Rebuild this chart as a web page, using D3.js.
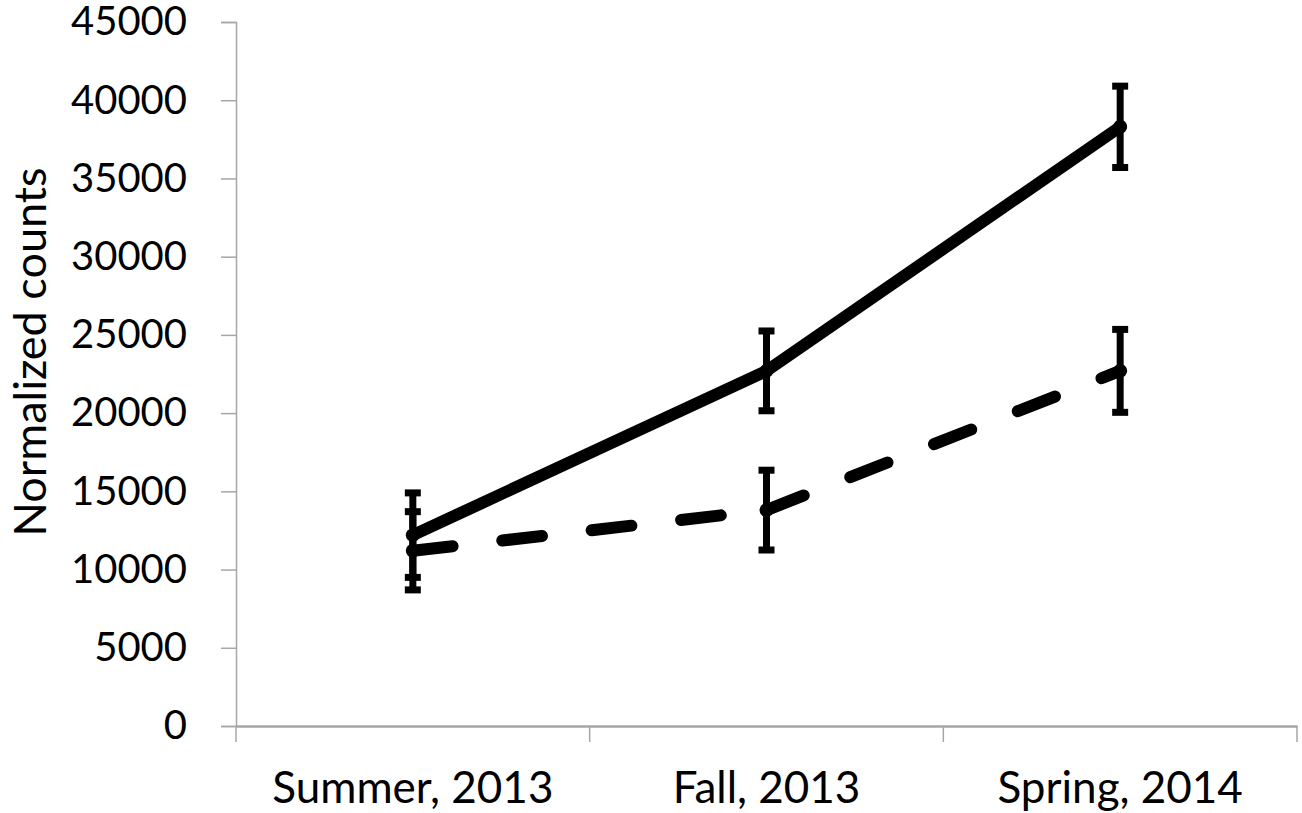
<!DOCTYPE html>
<html>
<head>
<meta charset="utf-8">
<script src="https://cdn.jsdelivr.net/npm/d3@7/dist/d3.min.js"></script>
<style>
  body { margin: 0; background: #fff; }
  svg { display: block; }
</style>
</head>
<body>
<div id="chart-container"></div>
<script>
const categories = ["Summer, 2013", "Fall, 2013", "Spring, 2014"];
const solidValues = [12200, 22700, 38300];
const solidErrors = [2700, 2550, 2600];
const dashedValues = [11200, 13800, 22700];
const dashedErrors = [2500, 2550, 2650];
const yTicks = [0, 5000, 10000, 15000, 20000, 25000, 30000, 35000, 40000, 45000];

const width = 1302;
const height = 813;
const margin = { top: 22, right: 5, bottom: 87, left: 236 };
const font = "Lato, 'Open Sans', sans-serif";

const svg = d3.select("#chart-container")
    .append("svg")
    .attr("width", width)
    .attr("height", height)
    .style("font-family", font);

const x = d3.scaleBand()
    .domain(categories)
    .range([margin.left, width - margin.right])
    .paddingInner(0)
    .paddingOuter(0);

const y = d3.scaleLinear()
    .domain([0, 45000])
    .range([height - margin.bottom, margin.top]);

const axisColor = "#a6a6a6";

// y axis
const yAxis = svg.append("g")
    .attr("transform", `translate(${margin.left},0)`)
    .call(d3.axisLeft(y).tickValues(yTicks).tickSize(15).tickPadding(34).tickFormat(d3.format("d")));
yAxis.select(".domain").attr("stroke", axisColor).attr("stroke-width", 1.5);
yAxis.selectAll(".tick line").attr("stroke", axisColor).attr("stroke-width", 1.5);
yAxis.selectAll(".tick text")
    .attr("fill", "#000")
    .style("font-size", "40px")
    .style("font-family", font);

// x axis
const xAxis = svg.append("g")
    .attr("transform", `translate(0,${y(0)})`)
    .call(d3.axisBottom(x).tickSize(0).tickPadding(46));
xAxis.select(".domain").attr("stroke", axisColor).attr("stroke-width", 2.5);
xAxis.selectAll(".tick text")
    .attr("fill", "#000")
    .style("font-size", "44px")
    .style("font-family", font);

// x category boundary ticks
const boundaries = categories.map(c => x(c)).concat([x(categories[categories.length - 1]) + x.bandwidth()]);
xAxis.selectAll(".bound")
    .data(boundaries)
    .enter()
    .append("line")
    .attr("class", "bound")
    .attr("x1", d => d)
    .attr("x2", d => d)
    .attr("y1", 0)
    .attr("y2", 16)
    .attr("stroke", axisColor)
    .attr("stroke-width", 1.5);

// y axis title
svg.append("text")
    .attr("transform", "translate(46,352) rotate(-90)")
    .attr("text-anchor", "middle")
    .style("font-size", "45px")
    .text("Normalized counts");

const cx = c => x(c) + x.bandwidth() / 2;

function drawSeries(values, errors, dashed) {
    const pts = categories.map((c, i) => ({ c, v: values[i], e: errors[i] }));
    const g = svg.append("g");

    // error bars
    const eb = g.selectAll(".eb").data(pts).enter().append("g");
    eb.append("line")
        .attr("x1", d => cx(d.c)).attr("x2", d => cx(d.c))
        .attr("y1", d => y(d.v - d.e)).attr("y2", d => y(d.v + d.e))
        .attr("stroke", "#000").attr("stroke-width", 7);
    [1, -1].forEach(s => {
        eb.append("line")
            .attr("x1", d => cx(d.c) - 8).attr("x2", d => cx(d.c) + 8)
            .attr("y1", d => y(d.v + s * d.e)).attr("y2", d => y(d.v + s * d.e))
            .attr("stroke", "#000").attr("stroke-width", 7);
    });

    // line, one path per segment so the dash pattern restarts at each point
    const line = d3.line().x(d => cx(d.c)).y(d => y(d.v));
    d3.pairs(pts).forEach(pair => {
        g.append("path")
            .attr("d", line(pair))
            .attr("fill", "none")
            .attr("stroke", "#000")
            .attr("stroke-width", 12)
            .attr("stroke-linecap", "round")
            .attr("stroke-dasharray", dashed ? "40,50" : null);
    });

    g.selectAll(".pt").data(pts).enter().append("circle")
        .attr("cx", d => cx(d.c))
        .attr("cy", d => y(d.v))
        .attr("r", 7)
        .attr("fill", "#000");
}

drawSeries(dashedValues, dashedErrors, true);
drawSeries(solidValues, solidErrors, false);
</script>
</body>
</html>
